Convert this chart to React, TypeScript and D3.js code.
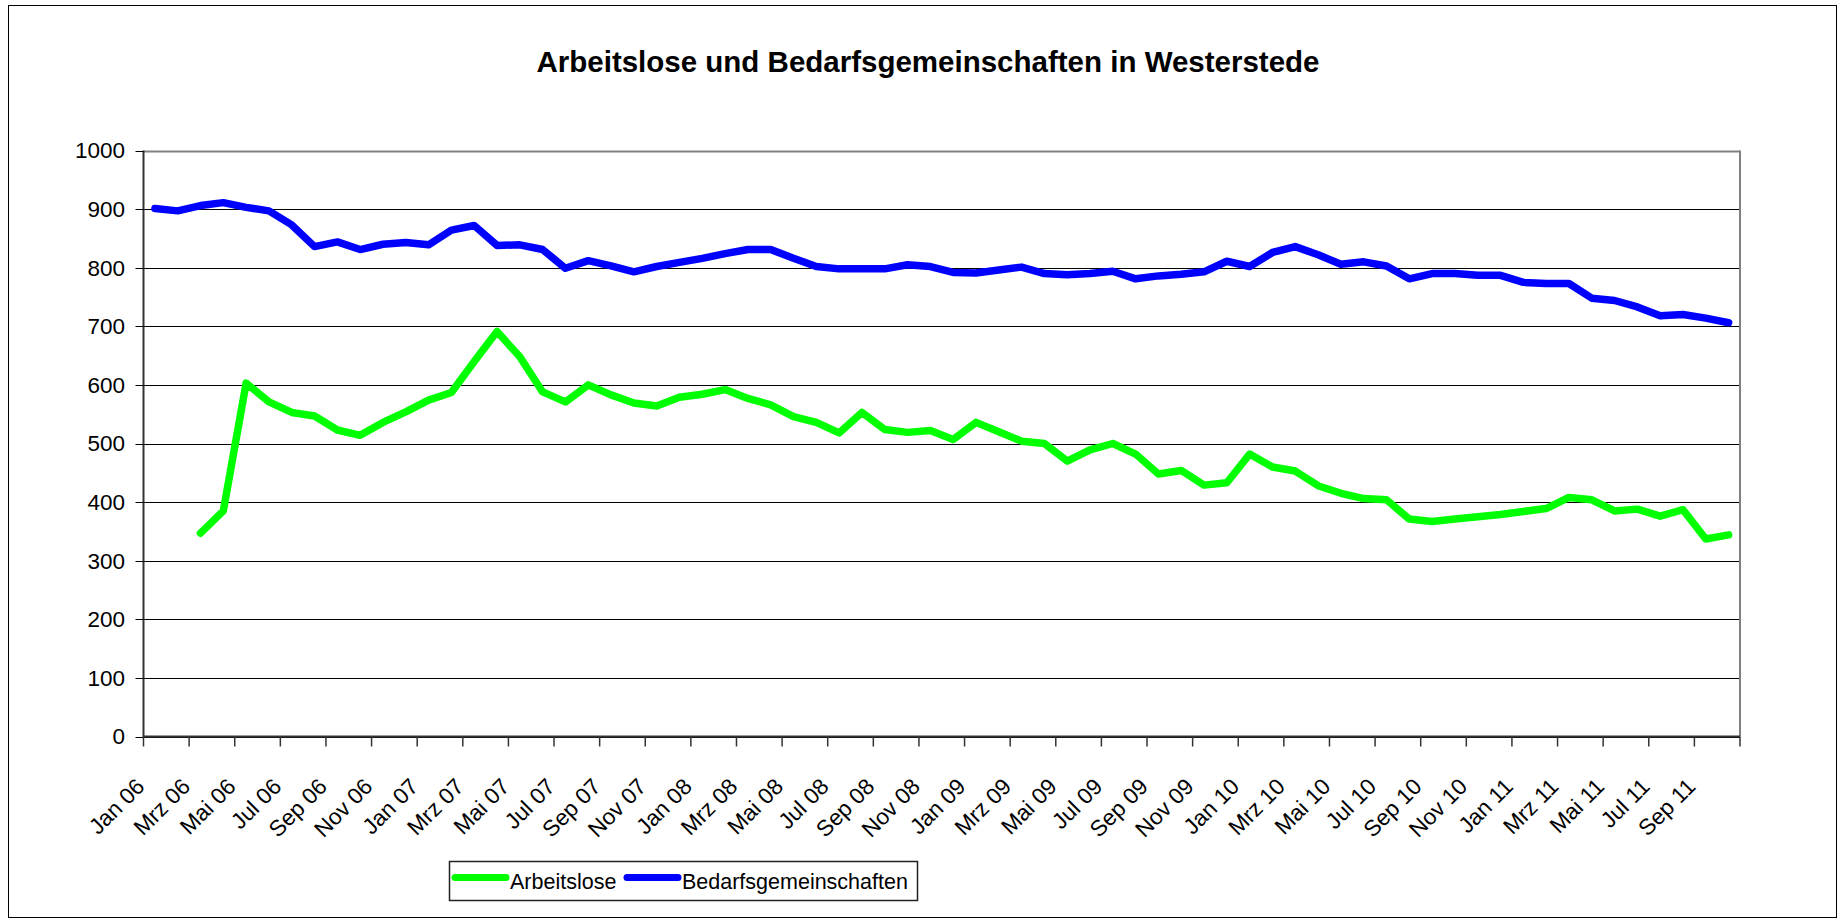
import * as d3 from 'd3';

const width = 1843;
const height = 920;

const months = [
  'Jan 06','Feb 06','Mrz 06','Apr 06','Mai 06','Jun 06','Jul 06','Aug 06','Sep 06','Okt 06','Nov 06','Dez 06',
  'Jan 07','Feb 07','Mrz 07','Apr 07','Mai 07','Jun 07','Jul 07','Aug 07','Sep 07','Okt 07','Nov 07','Dez 07',
  'Jan 08','Feb 08','Mrz 08','Apr 08','Mai 08','Jun 08','Jul 08','Aug 08','Sep 08','Okt 08','Nov 08','Dez 08',
  'Jan 09','Feb 09','Mrz 09','Apr 09','Mai 09','Jun 09','Jul 09','Aug 09','Sep 09','Okt 09','Nov 09','Dez 09',
  'Jan 10','Feb 10','Mrz 10','Apr 10','Mai 10','Jun 10','Jul 10','Aug 10','Sep 10','Okt 10','Nov 10','Dez 10',
  'Jan 11','Feb 11','Mrz 11','Apr 11','Mai 11','Jun 11','Jul 11','Aug 11','Sep 11','Okt 11'
];

// Arbeitslose (green) - no values for Jan/Feb 06
const arbeitslose = [
  null, null, 347, 385, 603, 571, 553, 547, 523, 514, 536, 554,
  574, 587, 640, 691, 648, 588, 571, 600, 583, 569, 564, 579,
  584, 592, 577, 566, 546, 536, 518, 553, 524, 519, 522, 507,
  536, 520, 504, 500, 470, 489, 500, 482, 448, 454, 429, 433,
  482, 460, 453, 428, 415, 406, 404, 371, 367, 371, 375, 379,
  384, 389, 408, 404, 385, 388, 376, 387, 337, 344
];

// Bedarfsgemeinschaften (blue)
const bedarfsgemeinschaften = [
  901, 897, 906, 911, 903, 897, 873, 836, 844, 831, 840, 843,
  839, 864, 872, 838, 839, 831, 799, 812, 803, 793, 802, 809,
  816, 824, 831, 831, 816, 802, 798, 798, 798, 805, 802, 792,
  791, 796, 801, 790, 788, 790, 794, 781, 786, 789, 793, 811,
  802, 826, 836, 822, 806, 810, 803, 781, 790, 790, 787, 787,
  775, 773, 773, 748, 744, 733, 718, 720, 714, 706
];

const yTicks = [0, 100, 200, 300, 400, 500, 600, 700, 800, 900, 1000];

const seriesNames = ['Arbeitslose', 'Bedarfsgemeinschaften'];
const seriesColors = ['#00ff00', '#0000ff'];

const plotLeft = 143.5;
const plotRight = 1740;
const plotTop = 150.5;
const plotBottom = 736.5;
const font = '"Liberation Sans", Arial, sans-serif';

const x = d3.scaleBand<number>()
  .domain(months.map((_, i) => i))
  .range([plotLeft, plotRight])
  .padding(0);

const y = d3.scaleLinear()
  .domain([0, 1000])
  .range([plotBottom, plotTop]);

const cx = (i: number) => (x(i) as number) + x.bandwidth() / 2;

const lineGen = d3.line<number | null>()
  .defined(d => d !== null)
  .x((_, i) => cx(i))
  .y(d => y(d as number));

const App = () => {
  const tickIdx = d3.range(0, months.length + 1, 2);
  const labelIdx = d3.range(0, months.length, 2);

  return (
    <svg width={width} height={height}
      style={{ position: 'absolute', left: 0, top: 0, background: '#fff' }}
      fontFamily={font}>
      <rect x={8.5} y={5.5} width={1828} height={912} fill="#fff" stroke="#000" strokeWidth={1} />

      <text x={928} y={72} textAnchor="middle" fontSize={29.5} fontWeight="bold">
        Arbeitslose und Bedarfsgemeinschaften in Westerstede
      </text>

      {/* gridlines */}
      {yTicks.map(t => (
        <line key={'g' + t} x1={plotLeft} x2={plotRight} y1={Math.round(y(t)) + 0.5} y2={Math.round(y(t)) + 0.5}
          stroke={t === 1000 ? '#808080' : '#000'} strokeWidth={t === 1000 ? 2 : 1} />
      ))}
      <line x1={plotRight} x2={plotRight} y1={plotTop} y2={plotBottom} stroke="#808080" strokeWidth={2} />

      {/* y axis */}
      <line x1={plotLeft} x2={plotLeft} y1={plotTop} y2={plotBottom + 1} stroke="#333" strokeWidth={2} />
      {yTicks.map(t => (
        <g key={'y' + t}>
          <line x1={plotLeft - 8} x2={plotLeft} y1={Math.round(y(t)) + 0.5} y2={Math.round(y(t)) + 0.5} stroke="#000" strokeWidth={1} />
          <text x={125} y={y(t)} dy="0.35em" textAnchor="end" fontSize={22.5}>{t}</text>
        </g>
      ))}

      {/* x axis */}
      <line x1={plotLeft} x2={plotRight} y1={plotBottom} y2={plotBottom} stroke="#333" strokeWidth={2} />
      {tickIdx.map(i => {
        const tx = i < months.length ? (x(i) as number) : plotRight;
        return <line key={'t' + i} x1={tx} x2={tx} y1={plotBottom} y2={plotBottom + 10} stroke="#333" strokeWidth={1.5} />;
      })}
      {labelIdx.map(i => (
        <text key={'l' + i} textAnchor="end" fontSize={22.5}
          transform={`translate(${cx(i) - 9},788) rotate(-45)`}>{months[i]}</text>
      ))}

      {/* lines */}
      {[arbeitslose, bedarfsgemeinschaften].map((s, k) => (
        <path key={'s' + k} d={lineGen(s) || ''} fill="none" stroke={seriesColors[k]}
          strokeWidth={7.5} strokeLinejoin="round" strokeLinecap="round" />
      ))}

      {/* legend */}
      <rect x={449.5} y={861.5} width={468} height={39} fill="#fff" stroke="#222" strokeWidth={1.5} />
      <line x1={455} x2={506} y1={877.5} y2={877.5} stroke={seriesColors[0]} strokeWidth={7} strokeLinecap="round" />
      <text x={510} y={881} dy="0.35em" fontSize={21.5}>{seriesNames[0]}</text>
      <line x1={627} x2={678} y1={877.5} y2={877.5} stroke={seriesColors[1]} strokeWidth={7} strokeLinecap="round" />
      <text x={682} y={881} dy="0.35em" fontSize={21.5}>{seriesNames[1]}</text>
    </svg>
  );
};

export default App;
